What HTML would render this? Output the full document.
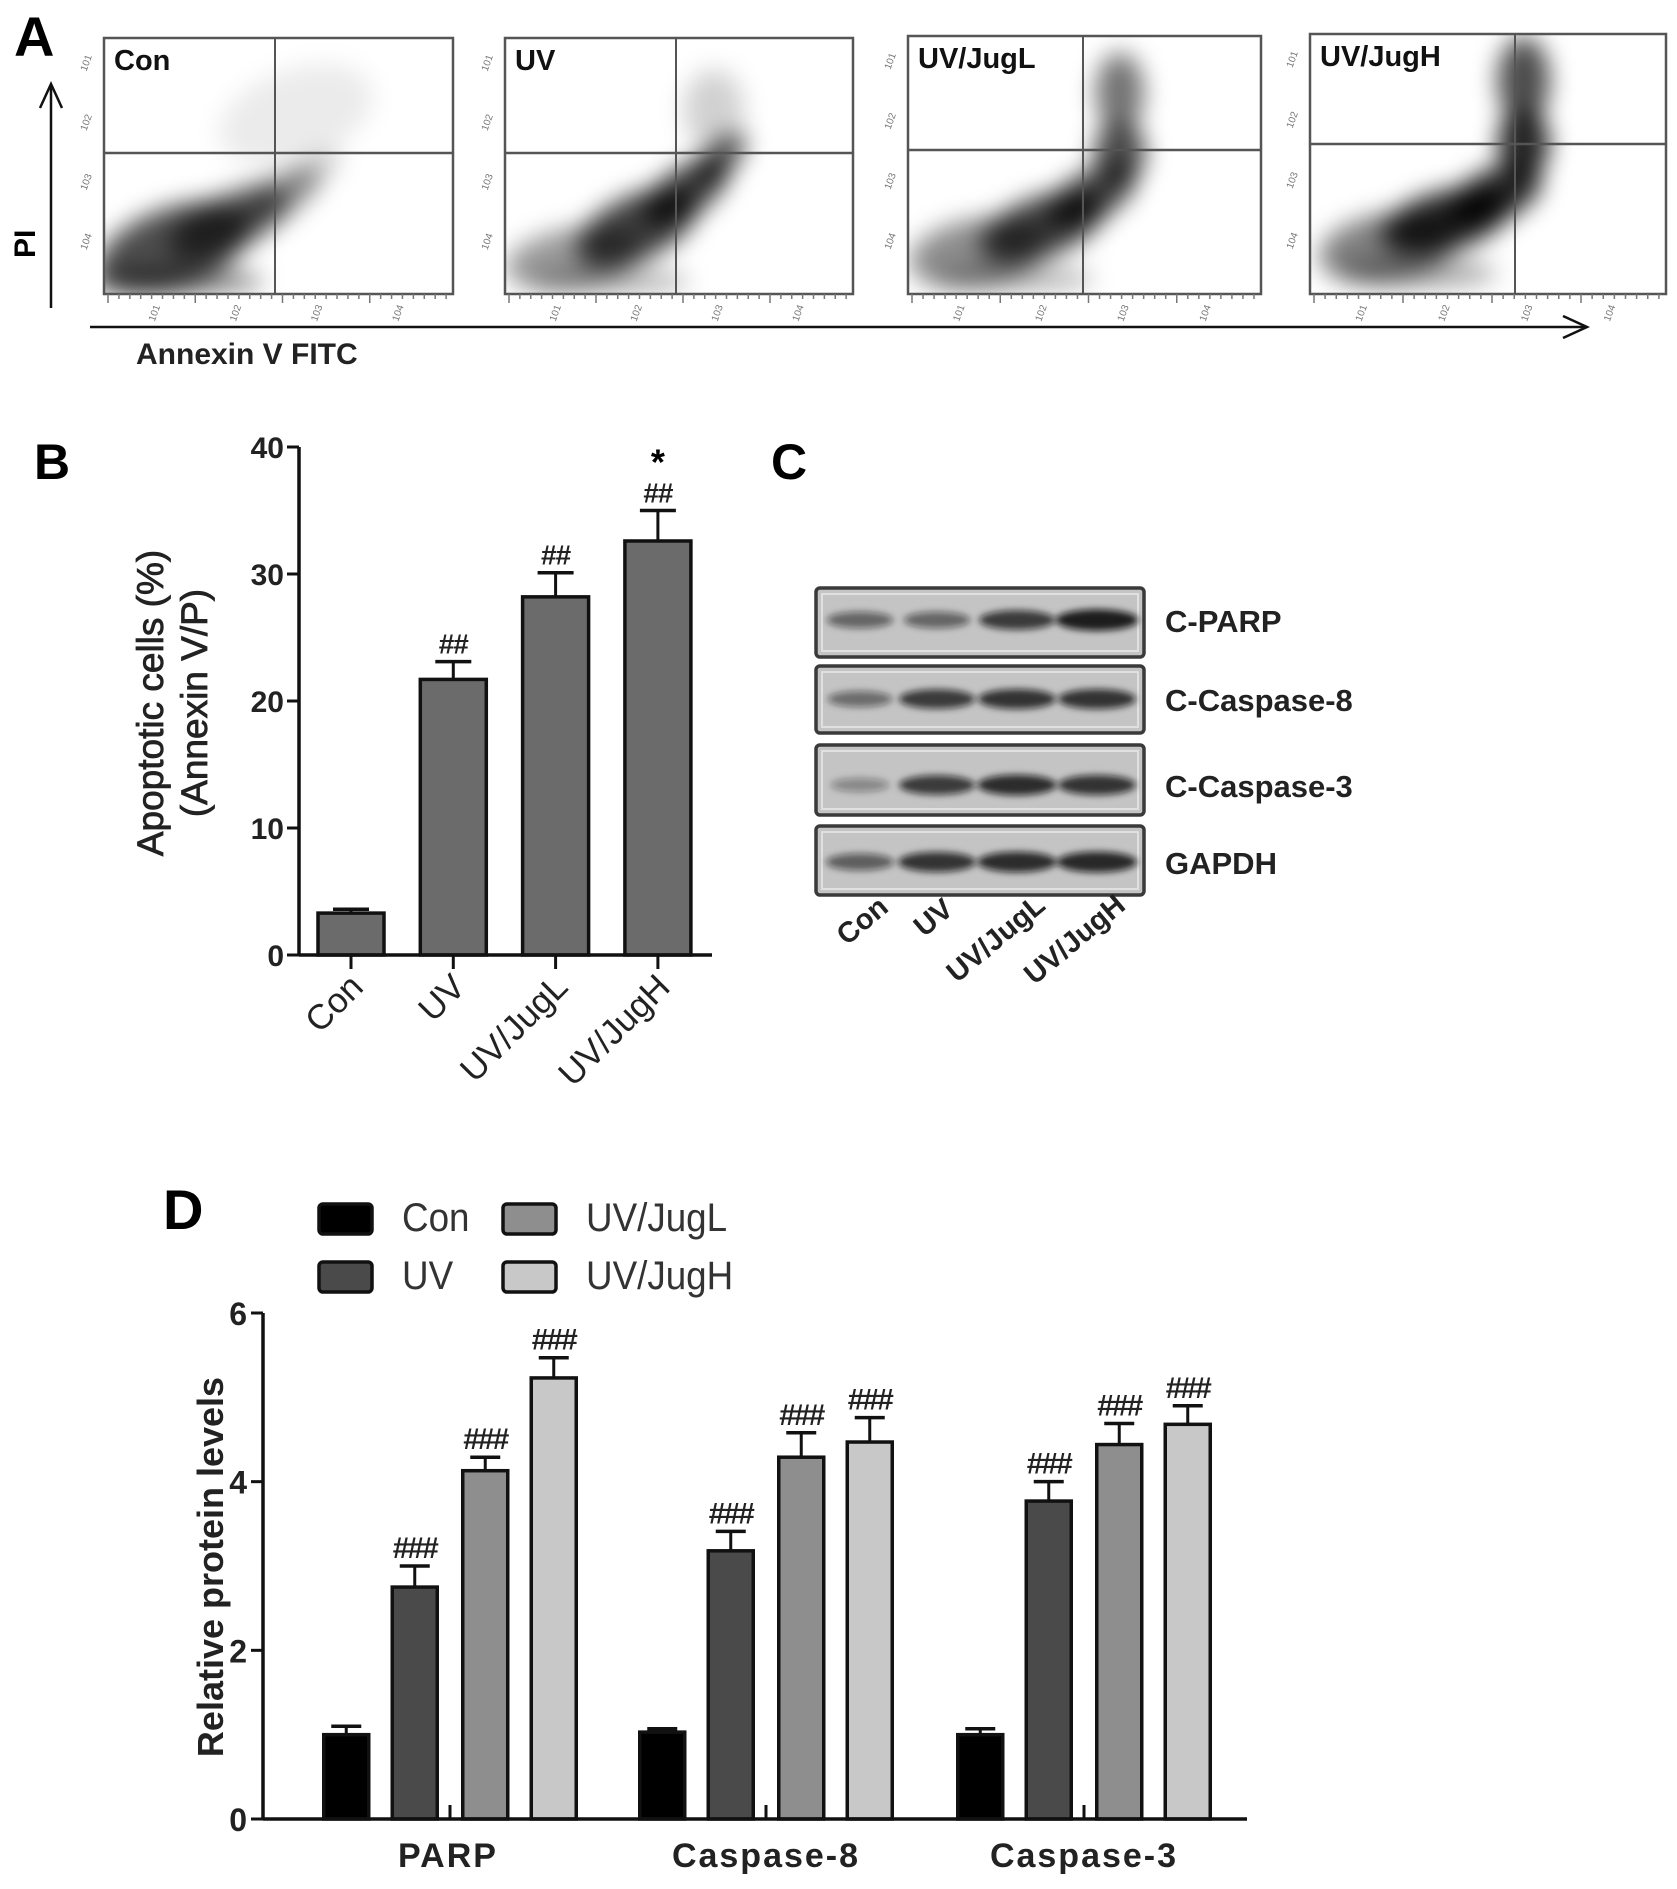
<!DOCTYPE html>
<html><head><meta charset="utf-8"><style>
html,body{margin:0;padding:0;background:#fff}
svg{display:block}
text{font-family:"Liberation Sans",Arial,sans-serif}
</style></head><body>
<svg id="fig" width="1677" height="1889" viewBox="0 0 1677 1889" xmlns="http://www.w3.org/2000/svg">
<defs>
<filter id="blur6" x="-50%" y="-50%" width="200%" height="200%"><feGaussianBlur stdDeviation="12"/></filter>
<filter id="blur3" x="-50%" y="-50%" width="200%" height="200%"><feGaussianBlur stdDeviation="3.5"/></filter>
</defs>
<g id="panelA"></g>
<g id="panelB"></g>
<g id="panelC"></g>
<g id="panelD"></g>
</svg>
<script>
// ---------- Panel B data ----------
const bCategories = ["Con","UV","UV/JugL","UV/JugH"];
const bValues = [3.3, 21.7, 28.2, 32.6];
const bErrors = [0.3, 1.4, 1.9, 2.4];
const bAnnot = ["", "##", "##", "##"];
const bTicks = [0,10,20,30,40];

// ---------- Panel D data ----------
const dGroups = ["PARP","Caspase-8","Caspase-3"];
const dSeries = ["Con","UV","UV/JugL","UV/JugH"];
const dCon  = [1.0, 1.03, 1.0];
const dUV   = [2.75, 3.18, 3.77];
const dJugL = [4.13, 4.29, 4.44];
const dJugH = [5.23, 4.47, 4.68];
const dConErr  = [0.1, 0.04, 0.07];
const dUVErr   = [0.25, 0.23, 0.23];
const dJugLErr = [0.16, 0.29, 0.25];
const dJugHErr = [0.24, 0.29, 0.22];
const dTicks = [0,2,4,6];

// ---------- Panel C data ----------
const cLanes = ["Con","UV","UV/JugL","UV/JugH"];
const cProteins = ["C-PARP","C-Caspase-8","C-Caspase-3","GAPDH"];
const cParp = [0.45,0.45,0.75,0.95];
const cCasp8 = [0.4,0.75,0.8,0.8];
const cCasp3 = [0.2,0.75,0.85,0.8];
const cGapdh = [0.5,0.8,0.85,0.88];

// ---------- Panel A labels ----------
const aPlots = ["Con","UV","UV/JugL","UV/JugH"];

const NS="http://www.w3.org/2000/svg";
function mk(parent, tag, attrs, txt){
  const e=document.createElementNS(NS,tag);
  for(const k in attrs) e.setAttribute(k,attrs[k]);
  if(txt!==undefined) e.textContent=txt;
  parent.appendChild(e); return e;
}

/* ================= PANEL A ================= */
(function(){
  const g=document.getElementById('panelA');
  const boxes=[[104,38,453,294,275,153],[505,38,853,294,676,153],[908,36,1261,294,1083,150],[1310,34,1666,294,1515,144]];
  // [u,v,rx,ry,rotation(deg, negative = rising to right),opacity]
  const clouds=[
    [[0.2,0.82,80,40,-20,0.7],[0.36,0.72,65,28,-25,0.6],[0.5,0.62,45,20,-30,0.4],[0.6,0.52,30,14,-35,0.2],[0.2,0.95,90,14,0,0.45],[0.55,0.3,80,45,-20,0.08]],
    [[0.2,0.86,70,30,-10,0.4],[0.38,0.74,65,32,-25,0.75],[0.52,0.6,50,24,-35,0.75],[0.62,0.47,32,16,-45,0.65],[0.6,0.28,30,40,0,0.18],[0.3,0.95,80,12,0,0.3]],
    [[0.2,0.84,70,34,-10,0.45],[0.38,0.74,65,30,-20,0.75],[0.52,0.62,50,24,-30,0.75],[0.6,0.45,26,30,0,0.7],[0.6,0.22,24,40,0,0.55],[0.3,0.94,80,12,0,0.3]],
    [[0.22,0.82,70,34,-10,0.5],[0.38,0.72,65,30,-15,0.85],[0.52,0.62,50,26,-25,0.85],[0.6,0.42,26,34,0,0.85],[0.6,0.18,26,44,0,0.7],[0.3,0.92,80,14,0,0.35]]
  ];
  boxes.forEach((b,i)=>{
    const [x0,y0,x1,y1,vx,hy]=b;
    const pg=mk(g,'g',{});
    
    
    mk(pg,'clipPath',{id:'clipA'+i}).appendChild(Object.assign(document.createElementNS(NS,'rect'),{}));
    const cp=pg.lastChild.firstChild;
    cp.setAttribute('x',x0);cp.setAttribute('y',y0);cp.setAttribute('width',x1-x0);cp.setAttribute('height',y1-y0);
    const cl=mk(pg,'g',{'clip-path':'url(#clipA'+i+')'});
    const cg2=mk(cl,'g',{filter:'url(#blur6)'});
    clouds[i].forEach(c=>{
      const cx=x0+c[0]*(x1-x0), cy=y0+c[1]*(y1-y0);
      mk(cg2,'ellipse',{cx:cx,cy:cy,rx:c[2],ry:c[3],transform:`rotate(${c[4]} ${cx} ${cy})`,fill:'#000',opacity:c[5]});
    });
    mk(pg,'rect',{x:x0,y:y0,width:x1-x0,height:y1-y0,fill:'none',stroke:'#555',"stroke-width":2.5});
    mk(pg,'line',{x1:vx,y1:y0,x2:vx,y2:y1,stroke:'#555',"stroke-width":2});
    mk(pg,'line',{x1:x0,y1:hy,x2:x1,y2:hy,stroke:'#555',"stroke-width":2.5});
    for(let k=0;k<4;k++){
      const ty=y0+(k+0.4)*(y1-y0)/4.3;
      mk(pg,'text',{x:x0-8,y:ty,"font-size":10,fill:'#777','text-anchor':'end',transform:`rotate(-70 ${x0-14} ${ty})`},'10'+(k+1));
      const tx=x0+(k+0.5)*(x1-x0)/4.3+10;
      mk(pg,'text',{x:tx,y:y1+28,"font-size":10,fill:'#777',transform:`rotate(-70 ${tx} ${y1+28})`},'10'+(k+1));
      for(let m=0;m<8;m++){
        const mx=x0+4+(k*(x1-x0)/4)+m*((x1-x0)/32);
        mk(pg,'line',{x1:mx,y1:y1,x2:mx,y2:y1+(m===0?9:5),stroke:'#777',"stroke-width":1.5});
      }
    }
    const lab=mk(pg,'text',{x:x0+10,y:y0+32,"font-size":29,"font-weight":"bold",fill:'#111'},aPlots[i]);
    
    
  });
  mk(g,'line',{x1:51,y1:308,x2:51,y2:86,stroke:'#111',"stroke-width":2.5});
  mk(g,'polyline',{points:'40,108 51,84 62,108',fill:'none',stroke:'#111',"stroke-width":2.5});
  mk(g,'line',{x1:90,y1:327,x2:1585,y2:327,stroke:'#111',"stroke-width":2.5});
  mk(g,'polyline',{points:'1563,316 1587,327 1563,338',fill:'none',stroke:'#111',"stroke-width":2.5});
  const pi=mk(g,'text',{x:0,y:0,"font-size":30,"font-weight":"bold",transform:'translate(35,258) rotate(-90)'},'PI');
   
  const ax=mk(g,'text',{x:136,y:364,"font-size":30,"font-weight":"bold",fill:'#222'},'Annexin V FITC');
   
  const A=mk(g,'text',{x:14,y:56,"font-size":56,"font-weight":"bold"},'A');
   
})();

/* ================= PANEL B ================= */
(function(){
  const g=document.getElementById('panelB');
  const ax0=299, axEnd=712, y0=955, y40=447;
  const yS=v=>y0-(v/40)*(y0-y40);
  const xC=i=>351+i*102.3;
  const bw=66;
  const lbl=mk(g,'text',{x:34,y:479,"font-size":50,"font-weight":"bold"},'B');
   
  bTicks.forEach(t=>{
    const y=yS(t);
    mk(g,'line',{x1:ax0-12,y1:y,x2:ax0,y2:y,stroke:'#111',"stroke-width":3});
    const tl=mk(g,'text',{x:ax0-15,y:y+11,"font-size":30,"font-weight":"bold","text-anchor":"end",fill:'#222'},t);
     
  });
  bValues.forEach((v,i)=>{
    const cx=xC(i);
    const et=yS(v+bErrors[i]);
    mk(g,'line',{x1:cx,y1:yS(v),x2:cx,y2:et,stroke:'#111',"stroke-width":3});
    mk(g,'line',{x1:cx-18,y1:et,x2:cx+18,y2:et,stroke:'#111',"stroke-width":3.5});
    const r=mk(g,'rect',{x:cx-bw/2,y:yS(v),width:bw,height:y0-yS(v),fill:'#6b6b6b',stroke:'#111',"stroke-width":3.5});
    
    
    if(bAnnot[i]){
      const a=mk(g,'text',{x:cx,y:et-8,"font-size":28,"font-weight":"bold","text-anchor":"middle",fill:'#222',"letter-spacing":"-1"},bAnnot[i]);
       
    }
    mk(g,'line',{x1:cx,y1:y0,x2:cx,y2:y0+14,stroke:'#111',"stroke-width":3});
    const tx=cx+14, ty=y0+34;
    const cl=mk(g,'text',{x:tx,y:ty,"font-size":35,"text-anchor":"end",fill:'#222',transform:`rotate(-45 ${tx} ${ty})`},bCategories[i]);
     
  });
  const star=mk(g,'text',{x:xC(3),y:yS(bValues[3]+bErrors[3])-36,"font-size":36,"font-weight":"bold","text-anchor":"middle"},'*');
   
  mk(g,'line',{x1:ax0,y1:y40,x2:ax0,y2:y0,stroke:'#111',"stroke-width":3.5});
  mk(g,'line',{x1:ax0,y1:y0,x2:axEnd,y2:y0,stroke:'#111',"stroke-width":3.5});
  const t1=mk(g,'text',{x:0,y:0,"font-size":37,"text-anchor":"middle",fill:'#222',"stroke":"#222","stroke-width":0.8,transform:'translate(163,703) rotate(-90)'},'Apoptotic cells (%)');
   
  const t2=mk(g,'text',{x:0,y:0,"font-size":37,"text-anchor":"middle",fill:'#222',"stroke":"#222","stroke-width":0.8,transform:'translate(207,703) rotate(-90)'},'(Annexin V/P)');
   
})();

/* ================= PANEL C ================= */
(function(){
  const g=document.getElementById('panelC');
  const lbl=mk(g,'text',{x:771,y:479,"font-size":50,"font-weight":"bold"},'C');
   
  const rows=[[588,657],[666,733],[745,815],[826,895]];
  const bandY=[620,699,785,862];
  const data=[cParp,cCasp8,cCasp3,cGapdh];
  const laneX=[860,937,1017,1097];
  rows.forEach((r,i)=>{
    const rg=mk(g,'g',{});
    
    
    mk(rg,'rect',{x:816,y:r[0],width:328,height:r[1]-r[0],rx:4,fill:'#c4c4c4',stroke:'#3a3a3a',"stroke-width":3.5});
    mk(rg,'rect',{x:822,y:r[0]+6,width:316,height:r[1]-r[0]-12,fill:'none',stroke:'#e0e0e0',"stroke-width":2});
    const bg=mk(rg,'g',{filter:'url(#blur3)'});
    data[i].forEach((v,j)=>{
      const b=mk(bg,'ellipse',{cx:laneX[j],cy:bandY[i],rx:26+v*16,ry:6+v*5,fill:'#111',opacity:0.2+v*0.75});
      
      
    });
    const t=mk(g,'text',{x:1165,y:bandY[i]+12,"font-size":31,"font-weight":"bold",fill:'#222'},cProteins[i]);
     
  });
  const ends=[[890,910],[955,912],[1047,908],[1127,908]];
  cLanes.forEach((l,j)=>{
    const t=mk(g,'text',{x:ends[j][0],y:ends[j][1],"font-size":29,"font-weight":"bold","text-anchor":"end",fill:'#222',transform:`rotate(-40 ${ends[j][0]} ${ends[j][1]})`},l);
     
  });
})();

/* ================= PANEL D ================= */
(function(){
  const g=document.getElementById('panelD');
  const ax0=263, axEnd=1247, y0=1819, y6=1313;
  const yS=v=>y0-(v/6)*(y0-y6);
  const groupX=[450,766,1084];
  const colors=['#000000','#4a4a4a','#8e8e8e','#c8c8c8'];
  const vals=[dCon,dUV,dJugL,dJugH], errs=[dConErr,dUVErr,dJugLErr,dJugHErr];
  const bw=45, step=68.5;
  const lbl=mk(g,'text',{x:163,y:1229,"font-size":56,"font-weight":"bold"},'D');
   
  const leg=[[317,1202,0],[317,1260,1],[501,1202,2],[501,1260,3]];
  leg.forEach(l=>{
    const lg=mk(g,'g',{});
    
    
    mk(lg,'rect',{x:l[0]+2,y:l[1]+2,width:53,height:30,rx:4,fill:colors[l[2]],stroke:'#111',"stroke-width":3.5});
    mk(lg,'text',{x:l[0]+85,y:l[1]+29,"font-size":40,fill:'#333',"transform":`translate(${(l[0]+85)*0.08} 0) scale(0.92 1)`},dSeries[l[2]]);
  });
  dTicks.forEach(t=>{
    const y=yS(t);
    mk(g,'line',{x1:ax0-12,y1:y,x2:ax0,y2:y,stroke:'#111',"stroke-width":3});
    const tl=mk(g,'text',{x:ax0-16,y:y+12,"font-size":32,"font-weight":"bold","text-anchor":"end",fill:'#222'},t);
     
  });
  dGroups.forEach((gr,gi)=>{
    for(let s=0;s<4;s++){
      const cx=groupX[gi]+(s-1.5)*step+(s>=2?1:-1)*1;
      const v=vals[s][gi], e=errs[s][gi];
      const et=yS(v+e);
      mk(g,'line',{x1:cx,y1:yS(v),x2:cx,y2:et,stroke:'#111',"stroke-width":3});
      mk(g,'line',{x1:cx-15,y1:et,x2:cx+15,y2:et,stroke:'#111',"stroke-width":3.5});
      const r=mk(g,'rect',{x:cx-bw/2,y:yS(v),width:bw,height:y0-yS(v),fill:colors[s],stroke:'#111',"stroke-width":3.5});
      
      
      if(s>0){
        const a=mk(g,'text',{x:cx,y:et-8,"font-size":30,"font-weight":"bold","text-anchor":"middle",fill:'#222',"letter-spacing":"-2"},'###');
         
      }
    }
    mk(g,'line',{x1:groupX[gi],y1:y0,x2:groupX[gi],y2:y0-14,stroke:'#111',"stroke-width":3});
    const gl=mk(g,'text',{x:groupX[gi]+(gi===0?-2:0),y:y0+48,"font-size":34,"font-weight":"bold","text-anchor":"middle","letter-spacing":"2",fill:'#222'},gr);
     
  });
  mk(g,'line',{x1:ax0,y1:y6,x2:ax0,y2:y0,stroke:'#111',"stroke-width":3.5});
  mk(g,'line',{x1:ax0,y1:y0,x2:axEnd,y2:y0,stroke:'#111',"stroke-width":3.5});
  const yt=mk(g,'text',{x:0,y:0,"font-size":36,"font-weight":"bold","text-anchor":"middle",fill:'#222',transform:'translate(223,1567) rotate(-90)'},'Relative protein levels');
   
})();
</script>
</body></html>
